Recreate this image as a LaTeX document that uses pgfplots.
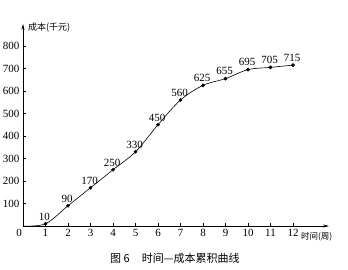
\documentclass[border=0pt]{standalone}
\usepackage{fontspec}
\setmainfont{Liberation Serif}
\newfontfamily\cjk{Noto Sans CJK SC}
\usepackage{pgfplots}
\usepackage{pgfplotstable}
\pgfplotsset{compat=1.18}
\usetikzlibrary{arrows.meta}

\pgfplotstableread{
x y lab
0 0 0
1 10 10
2 90 90
3 170 170
4 250 250
5 330 330
6 450 450
7 560 560
8 625 625
9 655 655
10 695 695
11 705 705
12 715 715
}\costdata
\pgfplotstableread{
x y lab
1 10 10
2 90 90
3 170 170
4 250 250
5 330 330
6 450 450
7 560 560
8 625 625
9 655 655
10 695 695
11 705 705
12 715 715
}\markdata

\begin{document}
\begin{tikzpicture}[x=1pt,y=1pt]
\begin{axis}[
 at={(0pt,0pt)}, anchor=origin,
 x=22.5pt, y=0.225pt,
 xmin=0, xmax=13.6, ymin=0, ymax=898,
 axis lines=left,
 axis line style={line width=0.6pt, -{Stealth[length=6pt,width=3pt]}},
 tick align=inside, major tick length=3pt,
 xtick={1,...,12}, ytick={100,200,...,800},
 tick style={black, line width=0.5pt},
 ticklabel style={font=\fontsize{11}{11}\selectfont},
 /pgf/number format/assume math mode=true,
 clip=false,
 enlargelimits=false,
]
\addplot[black, line width=0.6pt, smooth, tension=0.55] table[x=x,y=y] {\costdata};
\addplot[black, only marks, mark=*, mark size=1.6pt,
  nodes near coords, point meta=explicit symbolic,
  every node near coord/.append style={font=\fontsize{11}{11}\selectfont, anchor=south, yshift=0pt, xshift=-1pt}]
  table[x=x,y=y,meta=lab] {\markdata};
\node[anchor=north east, font=\fontsize{11}{11}\selectfont, inner sep=1pt] at (axis cs:0,0) [yshift=-2pt] {0};
\node[anchor=west, font=\cjk\fontsize{9}{9}\selectfont, inner sep=0pt] at (axis cs:0,898) [xshift=5pt, yshift=-4pt] {成本(千元)};
\node[anchor=west, font=\cjk\fontsize{8.5}{8.5}\selectfont, inner sep=0pt] at (axis cs:12.35,0) [yshift=-11pt] {时间(周)};
\node[anchor=center, font=\cjk\fontsize{11}{11}\selectfont, inner sep=0pt] at (axis cs:6.75,0) [yshift=-32pt] {图 6\hspace{1.1em}时间—成本累积曲线};
\end{axis}
\pgfresetboundingbox
\path[use as bounding box] (-23pt,-43pt) rectangle (325pt,226pt);
\end{tikzpicture}
\end{document}
